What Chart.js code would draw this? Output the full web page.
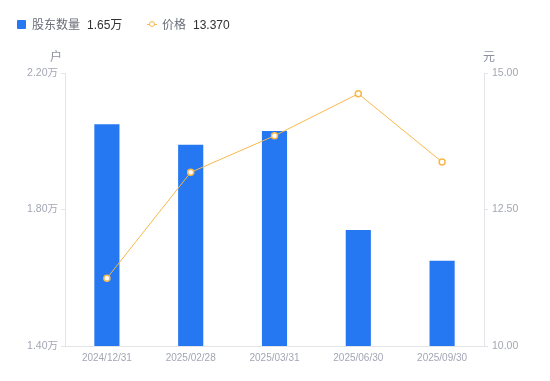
<!DOCTYPE html>
<html><head><meta charset="utf-8">
<script src="https://cdn.jsdelivr.net/npm/chart.js@4/dist/chart.umd.min.js"></script>
<style>
html,body{margin:0;padding:0;background:#fff;}
#wrap{position:relative;width:550px;height:381px;}
#legend{position:absolute;left:0;top:0;height:48px;font-family:"Liberation Sans","Noto Sans CJK SC",sans-serif;font-size:12px;}
.item{position:absolute;top:17px;height:16px;line-height:16px;white-space:nowrap;}
.lab{color:#6b6e7a;}
.val{color:#303133;margin-left:7px;}
canvas{position:absolute;left:0;top:0;}
</style></head><body>
<div id="wrap">
<canvas id="c" width="550" height="381"></canvas>
<div id="legend">
  <div class="item" style="left:17px;"><span style="display:inline-block;width:9px;height:9px;background:#2577F2;border-radius:1px;margin-right:6px;"></span><span class="lab">股东数量</span><span class="val">1.65万</span></div>
  <div class="item" style="left:147px;"><span style="display:inline-block;position:relative;width:10px;height:9px;margin-right:5px;"><span style="position:absolute;left:0;top:4px;width:10px;height:1px;background:#F7B84B;"></span><span style="position:absolute;left:2px;top:1px;width:4px;height:4px;border:1.5px solid #F7B84B;border-radius:50%;background:#fff;"></span></span><span class="lab">价格</span><span class="val">13.370</span></div>
</div>
</div>
<script>
const categories = ["2024/12/31","2025/02/28","2025/03/31","2025/06/30","2025/09/30"];
const holders = [2.05, 1.99, 2.03, 1.74, 1.65];
const prices = [11.24, 13.18, 13.85, 14.62, 13.37];
const leftTicks = [1.40, 1.80, 2.20];
const rightTicks = [10.00, 12.50, 15.00];

const FONT = "'Liberation Sans','Noto Sans CJK SC',sans-serif";
const TICK_COLOR = '#a3a6b4';
const AXIS_COLOR = '#e3e4e8';

const unitTitles = {
  id: 'unitTitles',
  afterDraw(chart) {
    const ctx = chart.ctx;
    ctx.save();
    ctx.font = "12px " + FONT;
    ctx.fillStyle = '#8c8f9c';
    ctx.textBaseline = 'middle';
    ctx.textAlign = 'center';
    ctx.fillText('户', 56, 58);
    ctx.fillText('元', 489, 58);
    ctx.restore();
  }
};

new Chart(document.getElementById('c'), {
  data: {
    labels: categories,
    datasets: [
      {
        type: 'line', label: '价格', data: prices, yAxisID: 'y1',
        borderColor: '#F7B84B', borderWidth: 1, backgroundColor: '#ffffff',
        pointRadius: 3, pointBorderWidth: 1.5, pointBackgroundColor: '#ffffff',
        pointBorderColor: '#F7B84B', tension: 0, order: 0
      },
      {
        type: 'bar', label: '股东数量', data: holders, yAxisID: 'y',
        backgroundColor: '#2577F2', borderWidth: 0,
        barPercentage: 0.3, categoryPercentage: 1.0, order: 1
      }
    ]
  },
  options: {
    responsive: false, animation: false,
    layout: { padding: { top: 73, left: 0, right: 0, bottom: 0 } },
    plugins: { legend: { display: false }, tooltip: { enabled: false } },
    scales: {
      x: {
        grid: { display: false, drawTicks: false },
        border: { display: true, color: AXIS_COLOR },
        ticks: { color: TICK_COLOR, font: { size: 10, family: FONT }, padding: 6, maxRotation: 0 },
        afterFit(s) { s.height = 35; }
      },
      y: {
        position: 'left', min: 1.40, max: 2.20,
        afterBuildTicks(s) { s.ticks = leftTicks.map(v => ({ value: v })); },
        grid: { drawOnChartArea: false, drawTicks: true, tickLength: 4, color: AXIS_COLOR },
        border: { display: true, color: AXIS_COLOR },
        ticks: { color: TICK_COLOR, font: { size: 10.5, family: FONT }, padding: 3,
          callback: v => v.toFixed(2) + '万' },
        afterFit(s) { s.width = 65; }
      },
      y1: {
        position: 'right', min: 10, max: 15,
        afterBuildTicks(s) { s.ticks = rightTicks.map(v => ({ value: v })); },
        grid: { drawOnChartArea: false, drawTicks: true, tickLength: 4, color: AXIS_COLOR },
        border: { display: true, color: AXIS_COLOR },
        ticks: { color: TICK_COLOR, font: { size: 10.5, family: FONT }, padding: 4,
          callback: v => v.toFixed(2) },
        afterFit(s) { s.width = 66; }
      }
    }
  },
  plugins: [unitTitles]
});
</script>
</body></html>
